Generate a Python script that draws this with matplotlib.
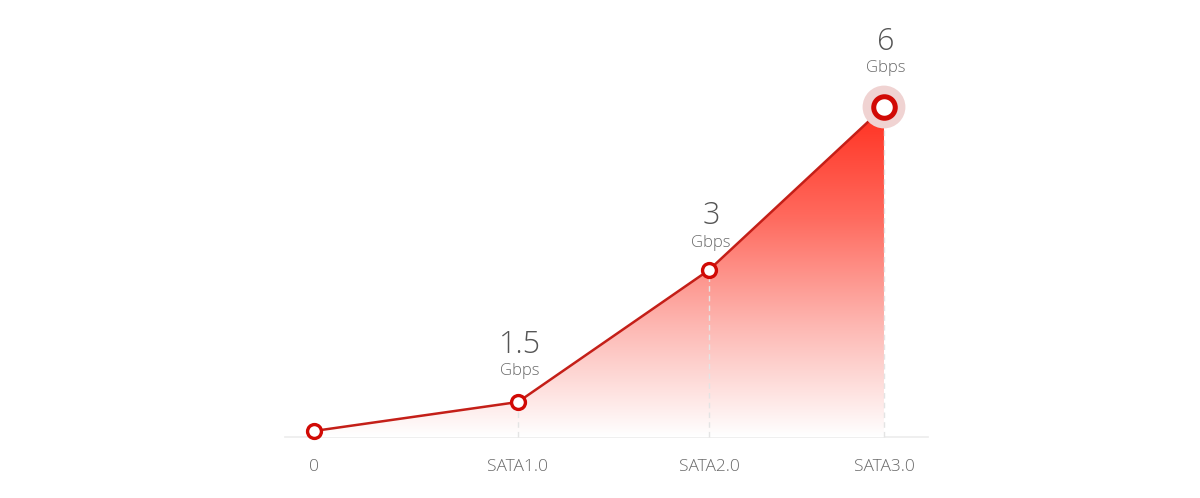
import numpy as np
import matplotlib.pyplot as plt
from matplotlib.colors import LinearSegmentedColormap
from matplotlib.patches import Polygon

# === DATOS ===
categories = ["0", "SATA1.0", "SATA2.0", "SATA3.0"]
speed_labels = ["", "1.5", "3", "6"]
unit = "Gbps"
# altura visual de cada punto sobre la base (el dibujo no es lineal)
heights = [6, 35, 167, 330]
# posicion horizontal de cada categoria
x_pos = [314, 518, 709, 884]

plt.rcParams['font.family'] = ['Open Sans', 'DejaVu Sans']

fig = plt.figure(figsize=(12, 4.98), dpi=100)
ax = fig.add_axes([0, 0, 1, 1])
ax.set_xlim(0, 1200)
ax.set_ylim(-61, 437)
ax.axis("off")

red = "#d10a05"
line_col = "#c41f18"
text_col = "#6a6a6a"

# base
ax.plot([285, 928], [0, 0], color="#ececec", lw=1.2, zorder=1)

# relleno con degradado
top = max(heights)
cmap = LinearSegmentedColormap.from_list("rg", ["#ffffff", "#fdb8b3", "#ff6a5e", "#ff2f1f"])
grad = np.linspace(0, 1, 256).reshape(-1, 1)
im = ax.imshow(grad, cmap=cmap, aspect="auto", origin="lower",
               extent=[x_pos[0], x_pos[-1], 0, top], zorder=2)
poly = Polygon(list(zip(x_pos, heights)) + [(x_pos[-1], 0), (x_pos[0], 0)],
               closed=True, facecolor="none", edgecolor="none")
ax.add_patch(poly)
im.set_clip_path(poly)

# lineas verticales punteadas
for x, h in zip(x_pos[1:], heights[1:]):
    ax.plot([x, x], [0, h], color="#e4e4e4", lw=1, ls=(0, (4, 3)), zorder=3)

# linea principal
ax.plot(x_pos, heights, color=line_col, lw=1.8, zorder=4)

# marcadores
ax.scatter(x_pos[:-1], heights[:-1], s=100, facecolor="white", edgecolor=red,
           linewidth=2.4, zorder=5)
ax.scatter([x_pos[-1]], [heights[-1]], s=950, facecolor="#f0d3d2", edgecolor="none", zorder=5)
ax.scatter([x_pos[-1]], [heights[-1]], s=240, facecolor="white", edgecolor=red,
           linewidth=3.6, zorder=6)

# etiquetas de velocidad (separacion vertical respecto al punto)
num_gap = [0, 57, 54, 65]
unit_gap = [0, 31, 27, 39]
for x, h, lab, g1, g2 in zip(x_pos, heights, speed_labels, num_gap, unit_gap):
    if not lab:
        continue
    ax.text(x + 2, h + g1, lab, ha="center", va="center", fontsize=22,
            color="#555555", fontweight="light")
    ax.text(x + 2, h + g2, unit, ha="center", va="center", fontsize=12,
            color=text_col, fontweight="light")

# etiquetas del eje
for x, c in zip(x_pos, categories):
    ax.text(x, -30, c, ha="center", va="center", fontsize=12.5,
            color=text_col, fontweight="light")

fig.savefig("out.png", dpi=100)
